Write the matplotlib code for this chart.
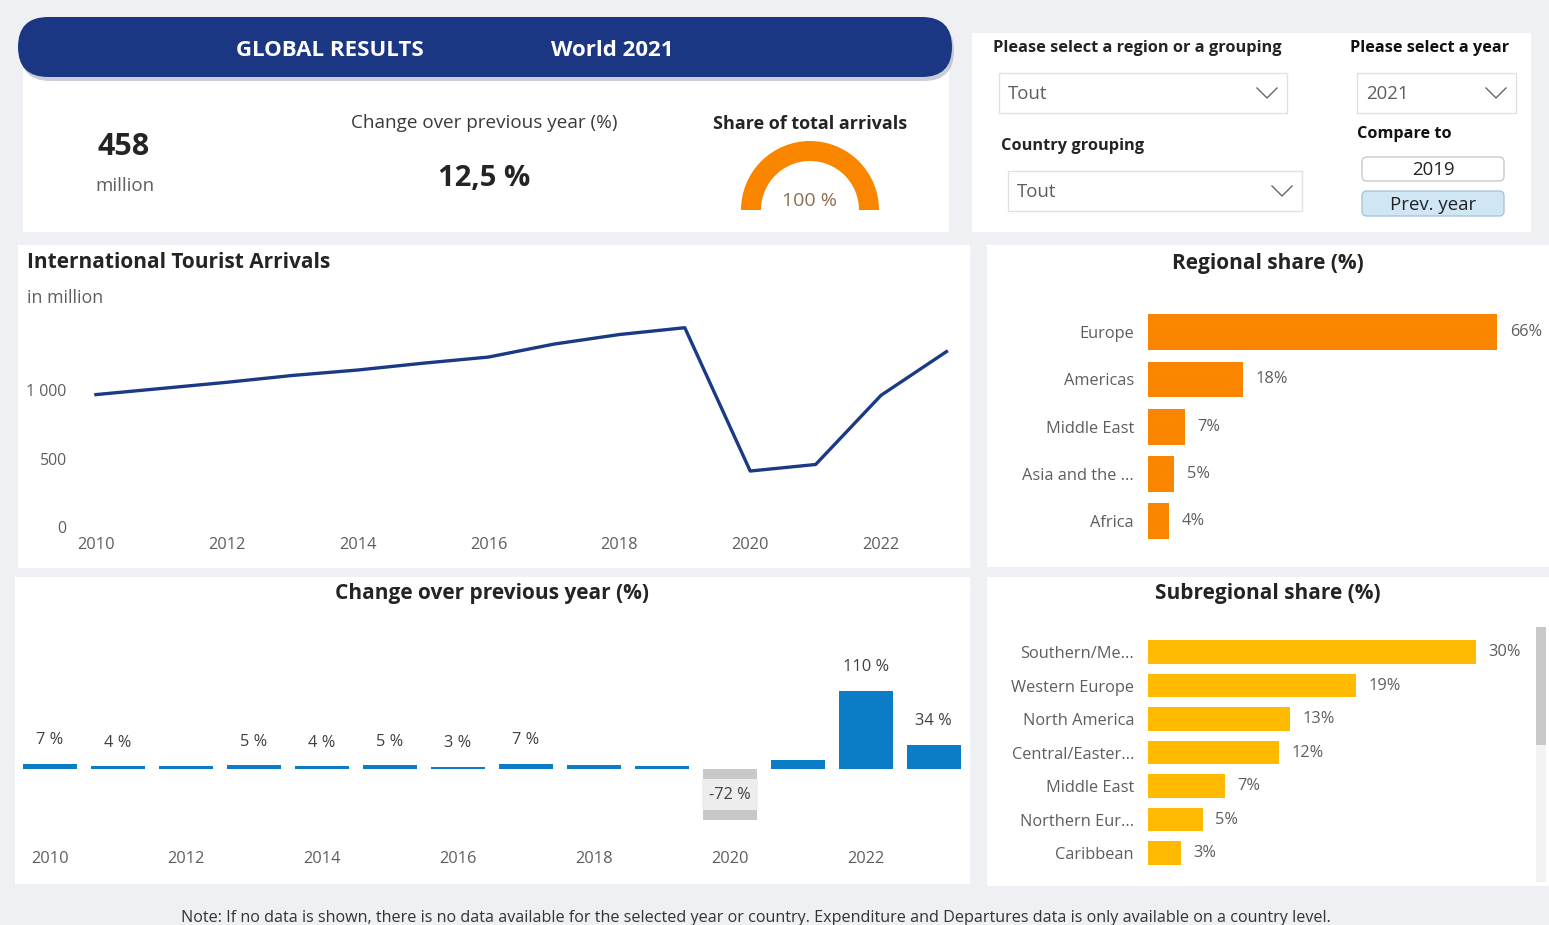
"""
Tourism dashboard - World 2021 (Power BI style) rebuilt with matplotlib.
"""

import matplotlib
matplotlib.use("Agg")
import matplotlib.pyplot as plt
from matplotlib.patches import Rectangle, FancyBboxPatch, Wedge

plt.rcParams["font.family"] = ["Open Sans", "DejaVu Sans"]

# ---------------------------------------------------------------------------
# Data
# ---------------------------------------------------------------------------
years = [2010, 2011, 2012, 2013, 2014, 2015, 2016,
         2017, 2018, 2019, 2020, 2021, 2022, 2023]
arrivals = [970, 1015, 1060, 1110, 1150, 1200, 1245,
            1340, 1410, 1460, 410, 458, 965, 1285]

change_pct = [7, 4, 4.7, 5, 4, 5, 3, 7, 5.6, 3.8, -72, 12.5, 110, 34]
change_label_shown = [True, True, False, True, True, True, True,
                      True, False, False, True, False, True, True]

regions = ["Europe", "Americas", "Middle East", "Asia and the ...", "Africa"]
region_share = [66, 18, 7, 5, 4]

subregions = ["Southern/Me...", "Western Europe", "North America",
              "Central/Easter...", "Middle East", "Northern Eur...", "Caribbean"]
subregion_share = [30, 19, 13, 12, 7, 5, 3]

kpi_year = 2021
kpi_arrivals = 458
kpi_change = 12.5
kpi_share = 100
compare_year = 2019

# ---------------------------------------------------------------------------
# Styling
# ---------------------------------------------------------------------------
W, H = 1549, 925
BG = "#eef0f3"
NAVY = "#1b3783"
LINE = "#1a3a85"
BLUE = "#0b7dc6"
NEG = "#c8c8c8"
ORANGE = "#fa8600"
GOLD = "#ffb900"
DARK = "#252423"
GREY = "#605e5c"
TITLE_SIZE = 15
TICK_SIZE = 11.8
LABEL_SIZE = 11.8


def box(x0, y0, x1, y1):
    # pixel box (top-left origin) -> figure fraction rect
    return [x0 / W, 1 - y1 / H, (x1 - x0) / W, (y1 - y0) / H]


def clean(ax):
    for s in ax.spines.values():
        s.set_visible(False)
    ax.patch.set_alpha(0)
    ax.tick_params(length=0)


fig = plt.figure(figsize=(W / 100, H / 100), dpi=100, facecolor=BG)

# background canvas in pixel coordinates
bg = fig.add_axes([0, 0, 1, 1], zorder=-1)
bg.set_xlim(0, W)
bg.set_ylim(H, 0)
bg.axis("off")


def panel(x0, y0, x1, y1, fc="white"):
    bg.add_patch(Rectangle((x0, y0), x1 - x0, y1 - y0, fc=fc, ec="none"))


panel(23, 55, 949, 232)
panel(972, 33, 1531, 232)
panel(18, 245, 970, 568)
panel(987, 245, 1549, 567)
panel(15, 577, 970, 884)
panel(987, 577, 1549, 886)

# ---------------------------------------------------------------------------
# Header banner + KPI cards
# ---------------------------------------------------------------------------
bg.add_patch(FancyBboxPatch((20, 21), 934, 60, boxstyle="round,pad=0,rounding_size=30",
                            fc="#a9aebb", ec="none", alpha=0.6))
bg.add_patch(FancyBboxPatch((18, 17), 934, 60, boxstyle="round,pad=0,rounding_size=30",
                            fc=NAVY, ec="none"))
bg.text(330, 50, "GLOBAL RESULTS", color="white", fontsize=16, fontweight="bold",
        ha="center", va="center")
bg.text(612, 51, f"World {kpi_year}", color="white", fontsize=16, fontweight="bold",
        ha="center", va="center")

bg.text(124, 147, f"{kpi_arrivals}", color=DARK, fontsize=22, fontweight="bold",
        ha="center", va="center")
bg.text(125, 186, "million", color=GREY, fontsize=13.5, ha="center", va="center")

bg.text(484, 123, "Change over previous year (%)", color="#3b3a39", fontsize=13.6,
        ha="center", va="center")
bg.text(484, 178, f"{kpi_change:.1f} %".replace(".", ","), color=DARK, fontsize=21,
        fontweight="bold", ha="center", va="center")

bg.text(810, 124, "Share of total arrivals", color=DARK, fontsize=13,
        fontweight="bold", ha="center", va="center")
# y axis is inverted, so the upper half-ring runs from 180 to 360 degrees
bg.add_patch(Wedge((810, 210), 69, 180, 180 + 180 * kpi_share / 100, width=20,
                   fc=ORANGE, ec="none"))
bg.text(810, 201, f"{kpi_share} %", color="#8c6e4f", fontsize=14,
        ha="center", va="center")

# ---------------------------------------------------------------------------
# Filter / slicer panel
# ---------------------------------------------------------------------------
def dropdown(x0, y0, x1, y1, label):
    bg.add_patch(Rectangle((x0, y0), x1 - x0, y1 - y0, fc="white", ec="#e1e1e1", lw=1))
    yc = (y0 + y1) / 2
    bg.text(x0 + 9, yc + 1, label, color=GREY, fontsize=13.4, ha="left", va="center")
    bg.plot([x1 - 30, x1 - 20, x1 - 10], [yc - 5, yc + 5, yc - 5], color="#666666", lw=1.0)


bg.text(993, 48, "Please select a region or a grouping", color=DARK, fontsize=11.8,
        fontweight="bold", ha="left", va="center")
dropdown(999, 73, 1287, 113, "Tout")
bg.text(1001, 146, "Country grouping", color=DARK, fontsize=11.8, fontweight="bold",
        ha="left", va="center")
dropdown(1008, 171, 1302, 211, "Tout")

bg.text(1350, 48, "Please select a year", color="#111111", fontsize=11.7,
        fontweight="bold", ha="left", va="center")
dropdown(1357, 73, 1516, 113, f"{kpi_year}")
bg.text(1357, 134, "Compare to", color="#111111", fontsize=11.7, fontweight="bold",
        ha="left", va="center")
bg.add_patch(FancyBboxPatch((1362, 157), 142, 24, boxstyle="round,pad=0,rounding_size=5",
                            fc="white", ec="#c8c8c8", lw=1))
bg.text(1433, 170, f"{compare_year}", color="#222222", fontsize=13.4, ha="center", va="center")
bg.add_patch(FancyBboxPatch((1362, 191), 142, 25, boxstyle="round,pad=0,rounding_size=5",
                            fc="#cfe6f5", ec="#a9c6d9", lw=1))
bg.text(1433, 205, "Prev. year", color="#222222", fontsize=13.4, ha="center", va="center")

# ---------------------------------------------------------------------------
# International Tourist Arrivals (line)
# ---------------------------------------------------------------------------
bg.text(27, 263, "International Tourist Arrivals", color=DARK, fontsize=TITLE_SIZE,
        fontweight="bold", ha="left", va="center")
bg.text(27, 298, "in million", color=GREY, fontsize=12.8, ha="left", va="center")

ax1 = fig.add_axes(box(75, 300, 955, 527), zorder=2)
clean(ax1)
ax1.plot(years, arrivals, color=LINE, lw=2.4)
ax1.set_xlim(2009.68, 2023.13)
ax1.set_ylim(0, 1663)
ax1.set_xticks(years[::2])
ax1.set_yticks([0, 500, 1000])
ax1.set_yticklabels(["0", "500", "1 000"])
ax1.tick_params(axis="x", labelsize=TICK_SIZE, colors=GREY, pad=7.5)
ax1.tick_params(axis="y", labelsize=11.4, colors=GREY, pad=6)

# ---------------------------------------------------------------------------
# Change over previous year (bars)
# ---------------------------------------------------------------------------
bg.text(492, 593, "Change over previous year (%)", color=DARK, fontsize=TITLE_SIZE,
        fontweight="bold", ha="center", va="center")

ax2 = fig.add_axes(box(20, 630, 965, 845), zorder=2)
clean(ax2)
bar_colors = [BLUE if v >= 0 else NEG for v in change_pct]
ax2.bar(years, change_pct, width=0.8, color=bar_colors)
for yr, v, show in zip(years, change_pct, change_label_shown):
    if not show:
        continue
    if v >= 0:
        ax2.annotate(f"{v:.0f} %", (yr, v), xytext=(0, 17), textcoords="offset points",
                     ha="center", va="center", fontsize=LABEL_SIZE, color="#404040")
    else:
        ax2.text(yr, v / 2, f"{v:.0f} %", ha="center", va="center", fontsize=LABEL_SIZE,
                 color="#404040",
                 bbox=dict(boxstyle="square,pad=0.45", fc="#ededed", ec="none"))
ax2.set_xlim(2009.56, 2023.46)
ax2.set_ylim(-107, 195.8)
ax2.set_xticks(years[::2])
ax2.set_yticks([])
ax2.tick_params(axis="x", labelsize=TICK_SIZE, colors=GREY, pad=4.5)

# ---------------------------------------------------------------------------
# Regional share (horizontal bars)
# ---------------------------------------------------------------------------
bg.text(1268, 263, "Regional share (%)", color=DARK, fontsize=TITLE_SIZE, fontweight="bold",
        ha="center", va="center")

ax3 = fig.add_axes(box(1148, 308.3, 1530, 545), zorder=2)
clean(ax3)
ax3.barh(range(len(regions)), region_share, height=0.76, color=ORANGE)
for i, v in enumerate(region_share):
    ax3.annotate(f"{v}%", (v, i), xytext=(9, 0), textcoords="offset points",
                 ha="left", va="center", fontsize=LABEL_SIZE, color=GREY)
ax3.set_yticks(range(len(regions)))
ax3.set_yticklabels(regions)
ax3.set_xticks([])
ax3.set_xlim(0, 72.2)
ax3.set_ylim(4.507, -0.507)
ax3.tick_params(axis="y", labelsize=LABEL_SIZE, colors=GREY, pad=10)

# ---------------------------------------------------------------------------
# Subregional share (horizontal bars)
# ---------------------------------------------------------------------------
bg.text(1268, 594, "Subregional share (%)", color=DARK, fontsize=TITLE_SIZE, fontweight="bold",
        ha="center", va="center")

# scrollbar of the visual
bg.add_patch(Rectangle((1536, 627), 10, 255, fc="#f3f3f3", ec="none"))
bg.add_patch(Rectangle((1536, 627), 10, 118, fc="#c8c8c8", ec="none"))

ax4 = fig.add_axes(box(1148, 630, 1530, 870), zorder=2)
clean(ax4)
ax4.barh(range(len(subregions)), subregion_share, height=0.69, color=GOLD)
for i, v in enumerate(subregion_share):
    ax4.annotate(f"{v}%", (v, i), xytext=(9, 0), textcoords="offset points",
                 ha="left", va="center", fontsize=LABEL_SIZE, color=GREY)
ax4.set_yticks(range(len(subregions)))
ax4.set_yticklabels(subregions)
ax4.set_xticks([])
ax4.set_xlim(0, 34.95)
ax4.set_ylim(6.507, -0.657)
ax4.tick_params(axis="y", labelsize=LABEL_SIZE, colors=GREY, pad=10)

# ---------------------------------------------------------------------------
# Footnote
# ---------------------------------------------------------------------------
bg.text(756, 918, "Note: If no data is shown, there is no data available for the selected "
        "year or country. Expenditure and Departures data is only available on a country level.",
        color="#333333", fontsize=11.6, ha="center", va="center")

fig.savefig("out.png", dpi=100, facecolor=BG)
